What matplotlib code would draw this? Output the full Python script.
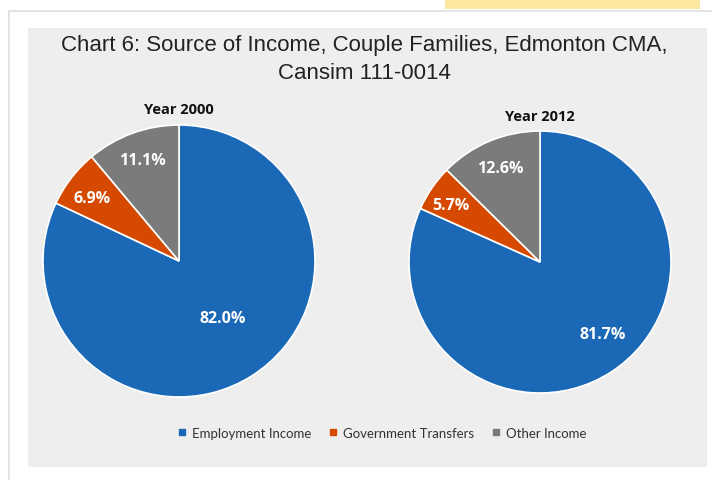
import matplotlib
matplotlib.use("Agg")
import matplotlib.pyplot as plt
from matplotlib.patches import Rectangle
from matplotlib.lines import Line2D
import numpy as np

categories = ["Employment Income", "Government Transfers", "Other Income"]
years = ["Year 2000", "Year 2012"]
values_2000 = [82.0, 6.9, 11.1]
values_2012 = [81.7, 5.7, 12.6]
labels_2000 = ["82.0%", "6.9%", "11.1%"]
labels_2012 = ["81.7%", "5.7%", "12.6%"]
title = "Chart 6: Source of Income, Couple Families, Edmonton CMA,\nCansim 111-0014"

colors = ["#1B69B6", "#D54A00", "#7B7B7B"]
W, H = 712, 481
fig = plt.figure(figsize=(W / 100, H / 100), dpi=100)
fig.patch.set_facecolor("white")

def fx(px):
    return px / W

def fy(py):
    return 1 - py / H

def rect(x0, y0, x1, y1, color):
    fig.patches.append(Rectangle((fx(x0), fy(y1)), fx(x1) - fx(x0), fy(y0) - fy(y1),
                                 transform=fig.transFigure, facecolor=color,
                                 edgecolor="none", zorder=-10))

rect(445, 0, 700, 10, "#FDE8A0")   # yellow band
rect(8, 11, 712, 481, "#E4E4E4")   # card shadow
rect(10, 13, 712, 481, "white")    # card
rect(28, 29, 707, 468, "#EEEEEE")  # gray panel

fig.text(fx(364), fy(59.5), title, ha="center", va="center", fontsize=16,
         family="Liberation Sans", color="#222222", linespacing=1.4)

def draw_pie(cx, cy, r, vals, labs, year, year_y, dists):
    ax = fig.add_axes([fx(cx - r), fy(cy + r), 2 * r / W, 2 * r / H])
    ax.patch.set_visible(False)
    wedges, _ = ax.pie(vals, colors=colors, startangle=90, counterclock=False,
                       radius=1, wedgeprops=dict(edgecolor="white", linewidth=1.2))
    ax.set_xlim(-1, 1)
    ax.set_ylim(-1, 1)
    ax.set_aspect("auto")
    ax.axis("off")
    for w, lab, (d, off) in zip(wedges, labs, dists):
        mid = np.deg2rad((w.theta1 + w.theta2) / 2 + off)
        ax.text(d * np.cos(mid), d * np.sin(mid), lab, ha="center", va="center",
                color="white", fontsize=11.5, fontweight="bold", family="Open Sans")
    fig.text(fx(cx), fy(year_y), year, ha="center", va="center", fontsize=10.5,
             fontweight="bold", family="Open Sans", color="#111111")

draw_pie(179, 262, 136, values_2000, labels_2000, years[0], 110,
         [(0.53, 5), (0.79, 2), (0.79, 0)])
draw_pie(540, 263, 131, values_2012, labels_2012, years[1], 117,
         [(0.73, 8), (0.81, 2), (0.78, 0)])

handles = [Line2D([0], [0], marker="s", linestyle="none", markersize=4.5,
                  markerfacecolor=c, markeredgecolor=c) for c in colors]
leg = fig.legend(handles, categories, loc="center", bbox_to_anchor=(fx(381), fy(434)),
                 ncol=3, frameon=False, handletextpad=0.25, columnspacing=1.15,
                 handlelength=1.0, prop=dict(family="Lato", size=9.5))
for t in leg.get_texts():
    t.set_color("#333333")

fig.savefig("out.png", dpi=100, facecolor="white")
